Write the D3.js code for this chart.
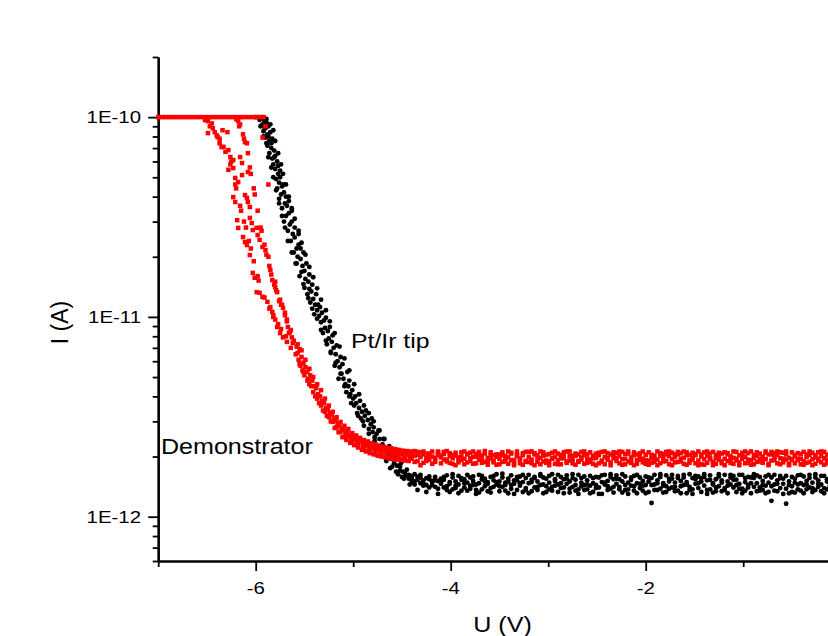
<!DOCTYPE html>
<html><head><meta charset="utf-8">
<script src="https://cdn.jsdelivr.net/npm/d3@7"></script>
<style>body{margin:0;background:#fff}svg{display:block}text{font-family:Arial,"Liberation Sans",sans-serif;fill:#000}</style>
</head><body><svg id="chart" width="828" height="636"></svg>
<script>
// ---------- axis ticks & labels ----------
const xMajorTicks = [-6, -4, -2];
const xTickLabels = ["-6", "-4", "-2"];
const xMinorTicks = [-7, -5, -3, -1];
const yMajorTicks = [1e-10, 1e-11, 1e-12];
const yTickLabels = ["1E-10", "1E-11", "1E-12"];
const xTitle = "U (V)";
const yTitle = "I (A)";
const seriesNames = ["Pt/Ir tip", "Demonstrator"];

// ---------- data (U in V, I in pA) ----------
// Pt/Ir tip (black)
const tipSatU = [-6.00, -5.97, -5.94, -5.92];
const tipDescent = [
[-5.94,99],[-5.91,96],[-5.93,92],[-5.89,94],[-5.90,88],[-5.92,85],[-5.87,90],[-5.88,82],[-5.90,79],[-5.85,84],
[-5.86,76],[-5.88,72],[-5.83,78],[-5.84,70],[-5.86,66],[-5.81,68],[-5.83,62],[-5.80,64],[-5.82,58],[-5.78,60],
[-5.80,55],[-5.77,52],[-5.79,49],[-5.75,54],[-5.76,47],[-5.78,44],[-5.73,45],[-5.74,41],[-5.76,39],[-5.71,42],
[-5.70,37],[-5.73,35],[-5.68,36],[-5.69,32],[-5.66,33],[-5.71,30],[-5.65,29],[-5.67,27],[-5.63,30],[-5.62,26],
[-5.64,24],[-5.60,25],[-5.58,22],[-5.61,21],[-5.56,23],[-5.57,20],[-5.54,19.5],[-5.58,18.5],[-5.52,18],[-5.53,16.8],
[-5.50,17],[-5.49,15.5],[-5.51,14.6],[-5.46,15],[-5.45,13.8],[-5.47,13],[-5.43,13.4],[-5.41,12.3],[-5.44,11.8],[-5.39,11.5],
[-5.37,10.8],[-5.40,10.3],[-5.35,10.1],[-5.32,10.5],[-5.33,9.4],[-5.30,9.6],[-5.29,8.8],[-5.31,8.3],[-5.26,8.5],[-5.25,7.8],
[-5.27,7.3],[-5.22,7.5],[-5.20,7.0],[-5.23,6.6],[-5.18,6.5],[-5.16,6.0],[-5.19,5.7],[-5.14,5.6],[-5.12,5.2],[-5.15,4.9],
[-5.10,4.9],[-5.08,4.6],[-5.05,4.5],[-5.07,4.2],[-5.03,4.1],[-5.00,3.9],[-5.02,3.7],[-4.97,3.7],[-4.94,3.5],[-4.96,3.3],
[-4.91,3.35],[-4.88,3.2],[-4.90,3.0],[-4.85,3.05],[-4.82,2.9],[-4.84,2.75],[-4.79,2.8],[-4.76,2.6],[-4.78,2.5],[-4.73,2.45],
[-4.70,2.3],[-4.72,2.2],[-4.67,2.2],[-4.64,2.05],[-4.66,1.95],[-4.61,1.95],[-4.58,1.85],[-4.60,1.78],[-4.55,1.8],[-4.52,1.7],
[-4.54,1.63],[-4.49,1.68],[-4.46,1.6],[-4.48,1.55],[-4.43,1.62],[-4.40,1.52],
[-5.91,89],[-5.87,80],[-5.84,74],[-5.81,63],[-5.77,57],[-5.75,50],[-5.72,46],[-5.69,40],[-5.66,38],[-5.63,34],
[-5.60,28],[-5.56,26],[-5.54,22],[-5.51,21],[-5.48,18.5],[-5.45,16.3],[-5.42,14.5],[-5.38,13],[-5.36,11.5],[-5.34,11.2],
[-5.28,9.9],[-5.24,8.9],[-5.21,8.1],[-5.17,7.2],[-5.13,6.3],[-5.11,5.8],[-5.06,5.3],[-5.04,4.8],[-5.01,4.3],[-4.98,4.0],
[-4.93,3.8],[-4.92,3.1],[-4.87,3.4],[-4.81,3.1],[-4.80,2.65],[-4.74,2.7],[-4.69,2.45],[-4.63,2.25],[-4.57,2.0],[-4.51,1.85],
[-4.45,1.72],[-4.42,1.45],
[-5.96,97],[-5.89,98],[-5.95,90],[-5.85,92],[-5.92,80],[-5.82,86],[-5.89,74],[-5.80,76],[-5.87,63],[-5.77,66],
[-5.84,56],[-5.74,58],[-5.82,50],[-5.72,52],[-5.79,43],[-5.69,46],[-5.76,37],[-5.66,40],[-5.73,32],[-5.63,35],
[-5.70,28],[-5.60,31],[-5.67,24],[-5.56,27],[-5.63,21],[-5.53,23.5],[-5.59,18.5],[-5.49,20.5],[-5.55,16],[-5.45,17.8],
[-5.50,14],[-5.41,15.8],[-5.46,12.4],[-5.37,13.9],[-5.42,11],[-5.33,12.2],[-5.37,9.8],[-5.28,10.8],[-5.33,8.6],[-5.24,9.5],
[-5.28,7.6],[-5.19,8.3],[-5.23,6.7],[-5.14,7.1],[-5.18,5.9],[-5.09,6.2],[-5.13,5.2],[-5.04,5.4],[-5.09,4.5],[-4.99,4.6],
[-5.04,4.0],[-4.94,4.1],[-4.99,3.6],[-4.89,3.6],[-4.95,3.2],[-4.84,3.3],[-4.89,2.85],[-4.79,3.0],[-4.84,2.6],[-4.73,2.7],
[-4.78,2.4],[-4.68,2.45],[-4.72,2.15],[-4.62,2.2],[-4.66,1.9],[-4.57,1.95],[-4.62,1.75],[-4.52,1.78],[-4.56,1.68],[-4.47,1.66],
[-4.50,1.58],[-4.43,1.55]
];
// common voltage grid of the flat (noise floor) region
const flatU = [
-4.40,-4.37,-4.34,-4.31,-4.28,-4.25,-4.22,-4.19,-4.16,-4.13,
-4.10,-4.07,-4.04,-4.01,-3.98,-3.95,-3.92,-3.89,-3.86,-3.83,
-3.80,-3.77,-3.74,-3.71,-3.68,-3.65,-3.62,-3.59,-3.56,-3.53,
-3.50,-3.47,-3.44,-3.41,-3.38,-3.35,-3.32,-3.29,-3.26,-3.23,
-3.20,-3.17,-3.14,-3.11,-3.08,-3.05,-3.02,-2.99,-2.96,-2.93,
-2.90,-2.87,-2.84,-2.81,-2.78,-2.75,-2.72,-2.69,-2.66,-2.63,
-2.60,-2.57,-2.54,-2.51,-2.48,-2.45,-2.42,-2.39,-2.36,-2.33,
-2.30,-2.27,-2.24,-2.21,-2.18,-2.15,-2.12,-2.09,-2.06,-2.03,
-2.00,-1.97,-1.94,-1.91,-1.88,-1.85,-1.82,-1.79,-1.76,-1.73,
-1.70,-1.67,-1.64,-1.61,-1.58,-1.55,-1.52,-1.49,-1.46,-1.43,
-1.40,-1.37,-1.34,-1.31,-1.28,-1.25,-1.22,-1.19,-1.16,-1.13,
-1.10,-1.07,-1.04,-1.01,-0.98,-0.95,-0.92,-0.89,-0.86,-0.83,
-0.80,-0.77,-0.74,-0.71,-0.68,-0.65,-0.62,-0.59,-0.56,-0.53,
-0.50,-0.47,-0.44,-0.41,-0.38,-0.35,-0.32,-0.29,-0.26,-0.23,
-0.20,-0.17,-0.14,-0.11,-0.08,-0.05];
const tipFlatA = [
1.55,1.50,1.58,1.47,1.52,1.44,1.54,1.49,1.41,1.51,
1.46,1.53,1.42,1.49,1.37,1.50,1.45,1.56,1.40,1.48,
1.43,1.51,1.36,1.47,1.54,1.42,1.49,1.39,1.52,1.45,
1.50,1.41,1.48,1.55,1.38,1.46,1.52,1.43,1.49,1.36,
1.47,1.53,1.40,1.50,1.44,1.57,1.42,1.48,1.35,1.51,
1.45,1.39,1.54,1.46,1.50,1.41,1.53,1.37,1.48,1.44,
1.52,1.43,1.47,1.58,1.40,1.49,1.45,1.51,1.38,1.54,
1.46,1.41,1.50,1.36,1.48,1.53,1.42,1.47,1.39,1.51,
1.44,1.50,1.17,1.45,1.52,1.38,1.47,1.42,1.55,1.40,
1.48,1.35,1.51,1.44,1.49,1.41,1.56,1.46,1.39,1.50,
1.43,1.52,1.37,1.47,1.54,1.42,1.48,1.36,1.50,1.45,
1.40,1.53,1.46,1.38,1.49,1.44,1.57,1.41,1.47,1.35,
1.51,1.43,1.48,1.20,1.45,1.52,1.39,1.46,1.16,1.50,
1.42,1.55,1.37,1.47,1.44,1.51,1.40,1.48,1.36,1.52,
1.45,1.39,1.50,1.43,1.47,1.41];
const tipFlatB = [
1.60,1.45,1.53,1.62,1.43,1.56,1.40,1.51,1.58,1.38,
1.55,1.40,1.61,1.33,1.57,1.43,1.60,1.35,1.54,1.62,
1.38,1.59,1.45,1.32,1.60,1.50,1.34,1.58,1.41,1.63,
1.34,1.57,1.44,1.31,1.61,1.52,1.36,1.59,1.33,1.56,
1.62,1.34,1.56,1.41,1.60,1.31,1.55,1.37,1.63,1.43,
1.33,1.58,1.40,1.61,1.32,1.56,1.35,1.62,1.42,1.59,
1.37,1.60,1.33,1.44,1.57,1.30,1.62,1.36,1.58,1.41,
1.61,1.54,1.32,1.59,1.37,1.43,1.60,1.31,1.57,1.35,
1.59,1.33,1.56,1.62,1.36,1.58,1.32,1.61,1.38,1.55,
1.34,1.60,1.42,1.57,1.31,1.63,1.37,1.54,1.59,1.33,
1.58,1.36,1.61,1.32,1.40,1.59,1.34,1.62,1.43,1.57,
1.60,1.33,1.38,1.62,1.35,1.58,1.31,1.56,1.61,1.40,
1.36,1.59,1.33,1.57,1.62,1.34,1.60,1.55,1.38,1.31,
1.58,1.32,1.61,1.35,1.59,1.37,1.62,1.33,1.57,1.41,
1.34,1.60,1.37,1.56,1.32,1.58];
const tipFlatC = [
1.48,1.63,1.36,1.57,1.46,1.33,1.59,1.44,1.52,1.30,
1.50,1.58,1.36,1.46,1.63,1.39,1.31,1.53,1.47,1.35,
1.57,1.44,1.30,1.62,1.37,1.55,1.46,1.32,1.60,1.49,
1.42,1.64,1.35,1.50,1.44,1.30,1.58,1.47,1.62,1.39,
1.31,1.49,1.58,1.36,1.63,1.45,1.33,1.60,1.41,1.54,
1.62,1.47,1.31,1.55,1.38,1.63,1.44,1.30,1.56,1.36,
1.45,1.31,1.56,1.39,1.30,1.61,1.48,1.42,1.63,1.32,
1.55,1.37,1.63,1.44,1.30,1.57,1.35,1.62,1.46,1.43,
1.31,1.57,1.44,1.36,1.47,1.63,1.43,1.33,1.50,1.62,
1.41,1.56,1.31,1.62,1.45,1.36,1.30,1.60,1.47,1.56,
1.63,1.30,1.53,1.45,1.34,1.63,1.52,1.39,1.31,1.62,
1.53,1.44,1.62,1.31,1.56,1.40,1.47,1.63,1.34,1.58,
1.44,1.31,1.62,1.42,1.35,1.46,1.56,1.30,1.60,1.44,
1.33,1.48,1.45,1.62,1.31,1.45,1.56,1.39,1.63,1.46,
1.60,1.31,1.54,1.40,1.62,1.35];

// Demonstrator (red)
const demoSatU = [-7.00,-6.96,-6.92,-6.88,-6.84,-6.80,-6.76,-6.72,-6.68,-6.64,-6.60,-6.56,-6.52,-6.48,
-6.44,-6.40,-6.36,-6.32,-6.28,-6.24,-6.20,-6.16,-6.12,-6.08,-6.04,-6.00,-5.96,-5.92];
const demoDescent = [
[-6.52,96.6],[-6.49,95.5],[-6.45,93],[-6.20,97.7],[-6.18,95.5],[-6.16,92],
[-6.49,83.2],[-6.42,84.1],[-6.39,79.4],[-6.34,86],[-6.29,84.1],
[-6.37,74],[-6.35,70.8],[-6.28,68.4],[-6.26,63.1],[-6.23,61],[-6.11,75],[-6.09,74],
[-6.16,63.1],[-6.14,58.9],[-6.28,54.5],[-6.23,55.6],[-6.21,49.6],[-6.18,47.3],[-6.14,51.3],[-6.08,53.1],
[-6.23,39.8],[-6.21,37.6],[-6.11,40.7],[-6.09,39.4],[-6.08,37.6],[-6.06,35.5],
[-6.19,30.5],[-6.18,27.9],[-6.06,31.3],[-6.04,29.5],[-6.03,27.2],[-5.99,27.9],
[-6.13,25.1],[-6.11,23.7],[-6.09,22.9],[-5.98,25.7],[-5.96,24.3],[-5.93,22.4],
[-6.06,20.4],[-5.90,21.6],[-5.87,20],
[-6.03,16.6],[-6.01,15.7],[-5.85,17.2],[-5.83,15.3],[-5.80,15],
[-5.99,13.3],[-5.96,13.2],[-5.93,12.6],[-5.80,14.1],[-5.78,13.3],[-5.75,12.2],
[-5.88,11.9],[-5.85,11.2],[-5.83,10.6],[-5.73,11.5],[-5.72,11.1],[-5.70,10.5],
[-5.82,10],[-5.80,9.7],[-5.78,8.9],[-5.68,9.7],[-5.67,8.9],[-5.65,8.4],
[-5.75,8.3],[-5.72,7.9],[-5.68,7.5],[-5.63,7.9],[-5.62,7.4],[-5.58,7.1],
[-5.93,79],[-5.87,46],[-5.90,90],
[-6.47,90],[-6.44,88],[-6.40,81],[-6.37,78],[-6.33,71],[-6.31,67],[-6.26,58],[-6.25,60],[-6.21,46],[-6.20,44],
[-6.16,36],[-6.15,34],[-6.12,30],[-6.10,28],[-6.07,24],[-6.05,22],[-6.02,19],[-5.98,16],[-5.97,15.2],[-5.91,12.5],
[-5.86,11],[-5.82,10.2],[-5.77,9.2],[-5.74,8.7],[-5.69,8.0],
[-6.17,90],[-6.13,82],[-6.12,78],[-6.08,66],[-6.06,56],[-6.05,52],[-6.02,44],[-6.01,41],[-5.98,34],[-5.95,28],
[-5.94,27],[-5.91,23],[-5.89,20.5],[-5.86,18],[-5.84,16.3],[-5.81,14.5],[-5.79,13.6],[-5.76,12.0],[-5.74,11.5],[-5.70,10.2],
[-5.68,9.5],[-5.64,8.6],
[-5.57,6.6],[-5.55,6.9],[-5.56,6.1],[-5.53,6.3],[-5.54,5.7],[-5.51,5.9],[-5.52,5.4],[-5.49,5.6],[-5.50,5.1],[-5.47,5.3],
[-5.46,4.9],[-5.44,5.1],[-5.45,4.6],[-5.42,4.8],[-5.40,4.5],[-5.41,4.2],[-5.38,4.4],[-5.36,4.1],[-5.37,3.9],[-5.34,4.0],
[-5.32,3.8],[-5.33,3.6],[-5.30,3.7],[-5.28,3.5],[-5.29,3.35],[-5.26,3.45],[-5.24,3.3],[-5.25,3.15],[-5.22,3.25],[-5.20,3.1],
[-5.21,2.98],[-5.18,3.05],[-5.16,2.92],[-5.17,2.8],[-5.14,2.88],[-5.12,2.75],[-5.13,2.65],[-5.10,2.72],[-5.08,2.6],[-5.06,2.68],
[-5.07,2.5],[-5.04,2.56],[-5.02,2.45],[-5.00,2.52],[-5.01,2.38],[-4.98,2.44],[-4.96,2.34],[-4.94,2.42],[-4.95,2.28],[-4.92,2.36],
[-4.90,2.26],[-4.88,2.33],[-4.89,2.2],[-4.86,2.28],[-4.84,2.18],[-4.82,2.26],[-4.83,2.13],[-4.80,2.22],[-4.78,2.14],[-4.76,2.21],
[-4.77,2.08],[-4.74,2.17],[-4.72,2.1],[-4.70,2.19],[-4.71,2.04],[-4.68,2.13],[-4.66,2.07],[-4.64,2.16],[-4.65,2.02],[-4.62,2.1],
[-4.60,2.05],[-4.58,2.14],[-4.59,1.99],[-4.56,2.08],[-4.54,2.02],[-4.52,2.12],[-4.53,1.97],[-4.50,2.06],[-4.48,2.0],[-4.46,2.1],
[-4.47,1.95],[-4.44,2.04],[-4.42,1.98],
[-5.66,8.3],[-5.64,7.0],[-5.61,7.6],[-5.59,6.5],[-5.57,7.3],[-5.55,5.8],[-5.53,6.8],[-5.51,5.3],[-5.49,6.1],[-5.47,4.8],
[-5.45,5.5],[-5.43,4.5],[-5.41,5.0],[-5.39,4.0],[-5.37,4.6],[-5.35,3.7],[-5.33,4.3],[-5.31,3.4],[-5.29,3.9],[-5.27,3.2],
[-5.25,3.6],[-5.23,3.0],[-5.21,3.35],[-5.19,2.78],[-5.17,3.15],[-5.15,2.65],[-5.13,2.98],[-5.11,2.5],[-5.09,2.85],[-5.07,2.42],
[-5.05,2.75],[-5.03,2.34],[-5.01,2.62],[-4.99,2.28],[-4.97,2.55],[-4.95,2.22],[-4.93,2.48],[-4.91,2.16],[-4.89,2.42],[-4.87,2.12],
[-4.85,2.38],[-4.83,2.08],[-4.81,2.33],[-4.79,2.05],[-4.77,2.30],[-4.75,2.02],[-4.73,2.27],[-4.71,2.00],[-4.69,2.24],[-4.67,1.98],
[-4.65,2.22],[-4.63,1.96],[-4.61,2.2],[-4.59,1.94],[-4.57,2.18],[-4.55,1.93],[-4.53,2.16],[-4.51,1.92],[-4.49,2.14],[-4.47,1.91],
[-4.45,2.13],[-4.43,1.9],[-4.41,2.12]
];
const demoFlatA = [
2.08,2.02,2.11,1.99,2.05,1.97,2.07,2.00,1.94,2.04,
1.98,2.06,1.93,2.01,1.96,2.09,1.92,2.00,1.95,2.05,
1.90,1.99,2.06,1.93,2.02,1.88,1.97,2.04,1.91,2.00,
1.95,2.03,1.89,1.98,2.07,1.92,2.01,1.94,2.08,1.90,
1.99,1.93,2.05,1.88,1.97,2.02,1.91,2.06,1.95,1.99,
1.92,2.04,1.96,1.89,2.01,1.94,2.07,1.90,1.98,2.03,
1.95,1.88,2.02,1.97,2.09,1.91,1.99,1.93,2.05,1.96,
1.90,2.01,1.94,2.06,1.89,1.98,2.03,1.92,2.00,1.95,
2.04,1.91,1.97,2.02,1.93,2.08,1.96,1.90,2.01,1.94,
1.99,2.05,1.89,1.97,2.03,1.92,1.98,2.06,1.91,2.00,
1.94,2.02,1.96,1.88,2.04,1.93,2.07,1.95,1.90,2.01,
1.97,1.91,2.03,1.95,1.99,2.08,1.92,1.96,2.02,1.89,
2.00,1.94,2.05,1.91,1.98,2.03,1.96,2.09,1.93,1.97,
1.92,2.01,1.95,2.06,1.90,1.99,2.04,1.94,1.98,1.91,
2.02,1.96,1.93,2.05,1.97,1.99];
const demoFlatB = [
1.98,2.13,1.90,2.10,1.86,2.07,1.93,2.12,1.88,2.09,
1.85,2.11,1.89,2.08,1.84,2.02,1.87,2.10,1.83,2.06,
2.09,1.84,2.00,2.11,1.86,2.07,1.82,2.10,1.87,2.05,
1.83,2.10,1.95,1.84,2.09,1.86,2.12,1.85,2.03,1.88,
2.11,1.85,2.08,1.94,1.83,2.10,1.86,1.89,2.09,1.84,
2.07,1.83,2.10,1.86,2.12,1.85,2.02,1.88,2.11,1.84,
1.86,2.10,1.84,2.07,1.85,2.11,1.83,2.08,1.87,2.10,
2.09,1.85,2.11,1.83,2.07,1.86,2.10,1.84,2.08,1.87,
1.84,2.10,1.86,1.88,2.12,1.85,2.06,2.11,1.83,2.09,
1.87,2.11,2.08,1.84,2.10,1.86,2.09,1.85,2.12,1.83,
2.10,1.86,2.07,2.11,1.84,2.09,1.85,2.10,2.08,1.86,
1.84,2.11,1.87,2.09,1.85,1.86,2.12,1.83,2.10,2.07,
1.86,2.09,1.84,2.11,2.08,1.85,2.10,1.87,2.12,1.84,
2.10,1.85,2.08,1.83,2.11,1.86,1.88,2.09,1.84,2.10,
1.87,2.11,1.85,2.08,1.86,2.09];
const demoFlatC = [
1.95,1.88,2.04,1.81,2.12,1.90,2.01,1.84,1.97,2.12,
2.02,1.93,2.13,1.86,2.04,1.81,1.98,1.92,2.12,1.87,
1.96,2.12,1.85,2.03,1.92,2.13,1.89,1.95,2.03,1.82,
2.05,1.88,2.01,2.12,1.92,1.81,2.04,1.96,1.82,2.11,
1.88,2.12,1.81,2.03,2.12,1.89,2.04,1.81,1.96,2.12,
1.83,1.96,2.04,2.12,1.91,2.02,1.82,2.05,1.93,2.12,
2.05,1.93,1.96,1.81,2.03,1.88,2.12,1.97,1.81,2.04,
1.97,2.12,1.82,1.95,2.12,1.92,1.81,2.05,1.93,2.12,
1.92,1.82,2.04,1.95,1.81,2.02,1.89,2.05,2.12,1.81,
2.05,1.88,1.95,2.12,1.82,2.04,1.93,2.03,1.81,2.05,
1.82,2.12,1.94,1.81,1.96,2.01,1.89,1.81,2.05,1.92,
2.12,1.95,1.81,2.04,2.12,1.93,1.82,2.04,1.88,1.95,
1.93,2.12,1.81,2.05,1.92,2.12,1.83,1.95,2.05,1.81,
1.94,2.04,1.92,1.95,1.82,2.05,2.12,1.81,2.03,1.95,
2.12,1.82,2.04,1.93,2.12,1.88];
const SAT_PA = 100; // instrument saturation level, 1E-10 A

// ---------- assemble ----------
const pA = 1e-12;
function build(satU, descent, flats) {
  let pts = satU.map(u => [u, SAT_PA]).concat(descent);
  flats.forEach(f => { pts = pts.concat(flatU.map((u, i) => [u, f[i]])); });
  return pts.filter(d => d[1] != null).map(d => ({u: d[0], i: d[1] * pA}));
}
const tipData = build(tipSatU, tipDescent, [tipFlatA, tipFlatB, tipFlatC]);
const demoData = build(demoSatU, demoDescent, [demoFlatA, demoFlatB, demoFlatC]);

// ---------- scales ----------
const svg = d3.select("#chart");
const x = d3.scaleLinear().domain([-7, 0]).range([158.2, 840.7]);
const y = d3.scaleLog().domain([6e-13, 2e-10]).range([561, 57]);

// ---------- axes ----------
const yMinor = y.ticks().filter(v => !yMajorTicks.some(m => Math.abs(m - v) / m < 1e-6));
const axG = svg.append("g");
axG.append("g").attr("transform", "translate(0,561)")
  .call(d3.axisBottom(x).tickValues(xMinorTicks).tickSize(6).tickSizeOuter(0).tickFormat(""));
axG.append("g").attr("transform", "translate(0,561)")
  .call(d3.axisBottom(x).tickValues(xMajorTicks).tickSize(10).tickSizeOuter(0).tickFormat(""));
axG.append("g").attr("transform", "translate(158.2,0)")
  .call(d3.axisLeft(y).tickValues(yMinor).tickSize(5.5).tickSizeOuter(0).tickFormat(""));
axG.append("g").attr("transform", "translate(158.2,0)")
  .call(d3.axisLeft(y).tickValues(yMajorTicks).tickSize(10).tickSizeOuter(0).tickFormat(""));
axG.selectAll("path.domain").attr("stroke", "#000").attr("stroke-width", 2.2);
axG.selectAll(".tick line").attr("stroke", "#000").attr("stroke-width", 1.8);

// tick labels
svg.append("g").selectAll("text").data(xMajorTicks).join("text")
  .attr("transform", d => `translate(${x(d)},593.5) scale(1.2,1)`)
  .attr("text-anchor", "middle").attr("font-size", 17)
  .text((d, i) => xTickLabels[i]);
svg.append("g").selectAll("text").data(yMajorTicks).join("text")
  .attr("transform", d => `translate(141,${y(d) + 6}) scale(1.2,1)`)
  .attr("text-anchor", "end").attr("font-size", 17)
  .text((d, i) => yTickLabels[i]);

// axis titles
svg.append("text").attr("transform", "translate(502.5,632) scale(1.14,1)")
  .attr("text-anchor", "middle").attr("font-size", 22).text(xTitle);
svg.append("text").attr("transform", "translate(68,322.5) rotate(-90)")
  .attr("text-anchor", "middle").attr("font-size", 23).text(yTitle);

// ---------- data marks ----------
svg.append("g").selectAll("circle").data(tipData).join("circle")
  .attr("cx", d => x(d.u)).attr("cy", d => y(d.i)).attr("r", 2.45).attr("fill", "#000");
svg.append("g").selectAll("rect").data(demoData).join("rect")
  .attr("x", d => x(d.u) - 2.25).attr("y", d => y(d.i) - 2.25)
  .attr("width", 4.5).attr("height", 4.5).attr("fill", "#ff0000");

// series annotations
svg.append("text").attr("transform", "translate(351,348) scale(1.18,1)")
  .attr("font-size", 21).text(seriesNames[0]);
svg.append("text").attr("transform", "translate(161,454) scale(1.14,1)")
  .attr("font-size", 22).text(seriesNames[1]);
</script></body></html>
